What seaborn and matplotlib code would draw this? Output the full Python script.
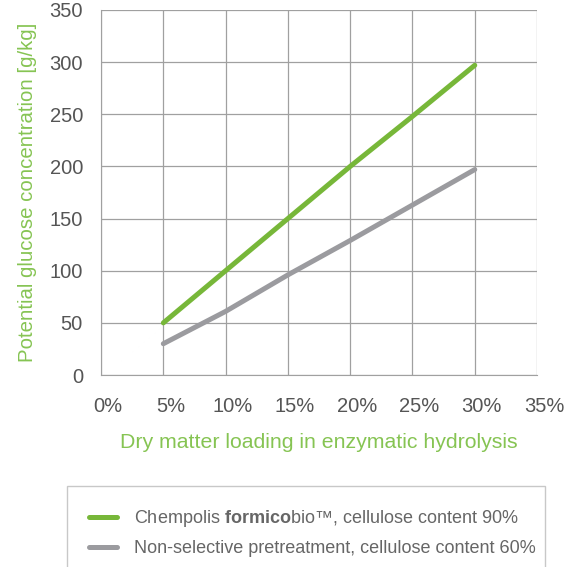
import numpy as np
import pandas as pd
import seaborn as sns
import matplotlib.pyplot as plt
from matplotlib.transforms import ScaledTranslation

# dry matter loading (%) and potential glucose (g/kg)
loading = [5, 10, 15, 20, 25, 30]
formicobio = [50, 100, 150, 200, 248, 297]
non_selective = [30, 61, 96, 129, 163, 197]

labels = ["Chempolis $\\bf{formico}$bio™, cellulose content 90%",
          "Non-selective pretreatment, cellulose content 60%"]
colors = ["#77b739", "#9b9b9f"]

sns.set_style("white")
plt.rcParams['font.family'] = ['Liberation Sans', 'DejaVu Sans']
plt.rcParams['mathtext.fontset'] = 'custom'
plt.rcParams['mathtext.bf'] = 'Liberation Sans:bold'

df = pd.DataFrame({
    "loading": loading * 2,
    "glucose": formicobio + non_selective,
    "series": [labels[0]] * len(loading) + [labels[1]] * len(loading),
})

fig = plt.figure(figsize=(5.75, 5.67), dpi=100)
ax = fig.add_axes([0.1757, 0.3386, 0.7583, 0.6438])

sns.lineplot(data=df, x="loading", y="glucose", hue="series", palette=colors,
             linewidth=3.6, ax=ax, legend=False)

ax.set_xlim(0, 35)
ax.set_ylim(0, 350)
ax.set_xticks(np.arange(0, 36, 5))
ax.set_xticklabels([f"{v}%" for v in range(0, 36, 5)])
ax.set_yticks(np.arange(0, 351, 50))
ax.grid(True, color="#a0a0a0", linewidth=0.9)
ax.set_axisbelow(True)
for s in ax.spines.values():
    s.set_visible(False)
ax.spines['left'].set_visible(True)
ax.spines['bottom'].set_visible(True)
ax.spines['left'].set_color("#a0a0a0")
ax.spines['bottom'].set_color("#a0a0a0")
ax.tick_params(axis='both', length=0, labelsize=14.5, colors="#555555")
ax.tick_params(axis='y', pad=13)
ax.tick_params(axis='x', pad=16)
# x tick labels sit a little right of the grid lines in the original
shift = ScaledTranslation(7 / 100, 0, fig.dpi_scale_trans)
for lbl in ax.get_xticklabels():
    lbl.set_transform(lbl.get_transform() + shift)

green_txt = "#86c453"
ax.set_xlabel("Dry matter loading in enzymatic hydrolysis", fontsize=15.3,
              color=green_txt, labelpad=12)
ax.set_ylabel("Potential glucose concentration [g/kg]", fontsize=14.7,
              color=green_txt, labelpad=9)

handles = [plt.Line2D([], [], color=c, linewidth=3.6) for c in colors]
leg = fig.legend(handles, labels, loc="upper left", mode="expand",
                 bbox_to_anchor=(67 / 575, 1 - 487 / 567, 478 / 575, 0.001),
                 frameon=True, fancybox=False, fontsize=13, handlelength=1.55,
                 handletextpad=0.95, borderpad=1.2, labelspacing=0.6,
                 borderaxespad=0)
leg.get_frame().set_edgecolor("#bbbbbb")
leg.get_frame().set_linewidth(1.0)
for t in leg.get_texts():
    t.set_color("#666666")

fig.savefig("out.png", dpi=100)
